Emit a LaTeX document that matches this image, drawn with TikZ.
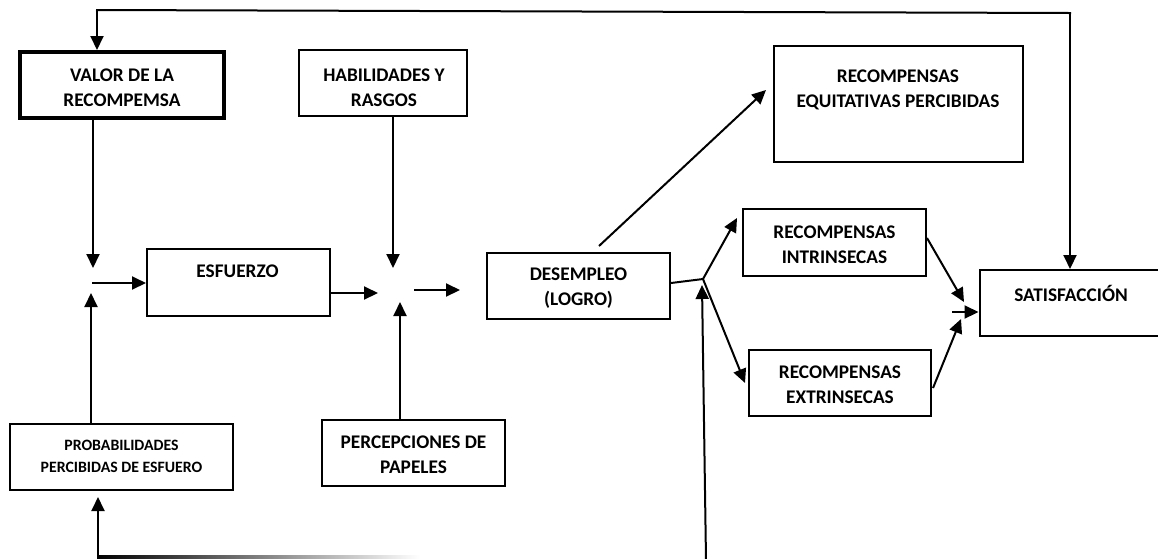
\documentclass[tikz,border=0pt]{standalone}
\usepackage{fontspec}
\setmainfont{Carlito}
\usetikzlibrary{arrows.meta}
\begin{document}
\begin{tikzpicture}[x=1pt,y=-1pt,
  box/.style={draw,line width=2pt,inner sep=0pt},
  txt/.style={font=\fontsize{19.3}{25}\selectfont\bfseries,align=center,inner sep=0pt},
  smalltxt/.style={font=\fontsize{15.8}{22}\selectfont\bfseries,align=center,inner sep=0pt},
  arr/.style={line width=2pt,-{Triangle[length=14pt,width=13pt]}},
  ln/.style={line width=2pt}]
\useasboundingbox (0,0) rectangle (1158,558);
\fill[white] (0,0) rectangle (1158,558);

% boxes
\node[box,line width=4pt,minimum width=204pt,minimum height=66pt] (valor) at (122,85) {};
\node[box,minimum width=168pt,minimum height=66pt] (hab) at (383,83) {};
\node[box,minimum width=249pt,minimum height=116pt] (eq) at (898.5,104) {};
\node[box,minimum width=183pt,minimum height=67pt] (intr) at (834.5,242.5) {};
\node[box,minimum width=182pt,minimum height=66pt] (extr) at (840,383) {};
\node[box,minimum width=183pt,minimum height=66pt] (sat) at (1071,303) {};
\node[box,minimum width=183pt,minimum height=66pt] (des) at (578.5,286) {};
\node[box,minimum width=183pt,minimum height=67pt] (esf) at (238.5,282.5) {};
\node[box,minimum width=223pt,minimum height=66pt] (prob) at (121.5,457) {};
\node[box,minimum width=183pt,minimum height=66pt] (perc) at (413.5,453) {};

% texts
\node[txt] (valort) at (122,88) {VALOR DE LA\\RECOMPEMSA};
\node[txt] (habt) at (384,88) {HABILIDADES Y\\RASGOS};
\node[txt] (eqt) at (898,90) {RECOMPENSAS\\EQUITATIVAS PERCIBIDAS};
\node[txt] (intrt) at (834.5,245) {RECOMPENSAS\\INTRINSECAS};
\node[txt] (extrt) at (840,385) {RECOMPENSAS\\EXTRINSECAS};
\node[txt] (satt) at (1071,293) {SATISFACCIÓN};
\node[txt] (dest) at (578.5,288.5) {DESEMPLEO\\(LOGRO)};
\node[txt] (esft) at (237.5,271) {ESFUERZO};
\node[smalltxt] (probt) at (121.5,456) {PROBABILIDADES\\PERCIBIDAS DE ESFUERO};
\node[txt] (perct) at (413.5,455) {PERCEPCIONES DE\\PAPELES};

% junction points and free ends
\coordinate (t1) at (97,10);
\coordinate (t2) at (1070,13);
\coordinate (j1n) at (93,268);
\coordinate (j1e) at (92,283);
\coordinate (j1s) at (91,293);
\coordinate (j2n) at (393,268);
\coordinate (j2w) at (378,293);
\coordinate (j2s) at (400,302);
\coordinate (j2e) at (414,290);
\coordinate (j2t) at (460,290);
\coordinate (d1) at (599,246);
\coordinate (e1) at (766,90);
\coordinate (J) at (703,279);
\coordinate (Ji) at (737,218);
\coordinate (Je) at (745,383);
\coordinate (b1) at (706,560);
\coordinate (b2) at (702,285);
\coordinate (i1) at (927,238);
\coordinate (i2) at (964,302);
\coordinate (x1) at (933,388);
\coordinate (x2) at (961,319);
\coordinate (s0) at (952,312);
\coordinate (p1) at (98,557);
\coordinate (p2) at (98,497);

% top feedback loop
\draw[ln,line cap=rect] (t1) -- (t2);
\draw[arr] (t1) -- (t1 |- valor.north);
\draw[arr] (t2) -- (t2 |- sat.north);

% first junction
\draw[arr] (j1n |- valor.south) -- (j1n);
\draw[arr] (j1e) -- (esf.west |- j1e);
\draw[arr] (j1s |- prob.north) -- (j1s);

% second junction
\draw[arr] (j2n |- hab.south) -- (j2n);
\draw[arr] (esf.east |- j2w) -- (j2w);
\draw[arr] (j2s |- perc.north) -- (j2s);
\draw[arr] (j2e) -- (j2t);

% performance outputs
\draw[arr] (d1) -- (e1);
\draw[ln] (des.east |- 0,283) -- (J);
\draw[arr] (J) -- (Ji);
\draw[arr] (J) -- (Je);
\draw[arr] (b1) -- (b2);

% to satisfaction
\draw[arr] (i1) -- (i2);
\draw[arr] (x1) -- (x2);
\draw[arr] (s0) -- (sat.west |- s0);

% bottom feedback
\shade[left color=black,right color=white] (97,555.5) rectangle (420,558);
\draw[arr] (p1) -- (p2);
\end{tikzpicture}
\end{document}
